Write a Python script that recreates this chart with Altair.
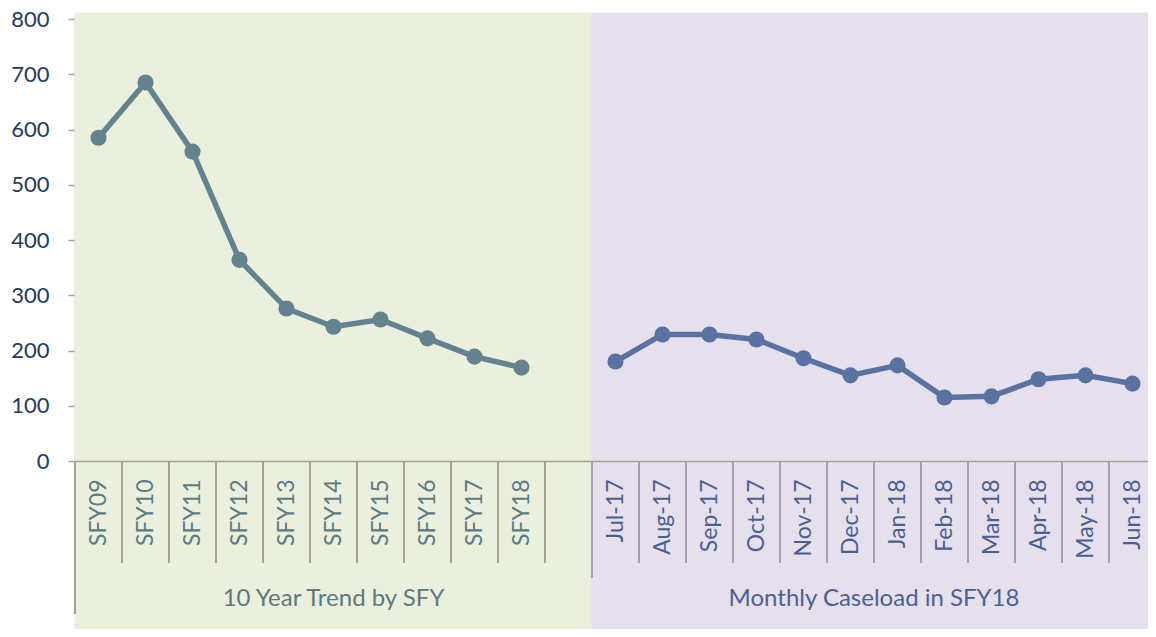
import json
import altair as alt
import pandas as pd

# ---------------- data ----------------
sfy_labels = ["SFY09", "SFY10", "SFY11", "SFY12", "SFY13",
              "SFY14", "SFY15", "SFY16", "SFY17", "SFY18"]
sfy_values = [585, 685, 560, 364, 276, 243, 256, 222, 189, 169]

month_labels = ["Jul-17", "Aug-17", "Sep-17", "Oct-17", "Nov-17", "Dec-17",
                "Jan-18", "Feb-18", "Mar-18", "Apr-18", "May-18", "Jun-18"]
month_values = [180, 229, 229, 220, 186, 155, 173, 115, 117, 148, 155, 140]

gap_label = " "
group_titles = ["10 Year Trend by SFY", "Monthly Caseload in SFY18"]
group_anchor = ["SFY14", "Jan-18"]
y_ticks = [0, 100, 200, 300, 400, 500, 600, 700, 800]

categories = sfy_labels + [gap_label] + month_labels

# ---------------- styles ----------------
PAD_L, PAD_T = 67, 11
W, H = 1140 - PAD_L, 442          # svg is 1140 wide; bands run past the right edge as in the source
BAND_RANGE = 1081
GREEN_BG = "#EBEFDE"
PURPLE_BG = "#E6E0EC"
TREND_COL = "#64838F"
MONTH_COL = "#5A72A2"
AXIS_COL = "#A3A595"
SEP_GREEN = "#A3A692"
SEP_PURPLE = "#A3A2B0"
FONT = "Lato"

x_scale = alt.Scale(domain=categories, paddingInner=0, paddingOuter=0, range=[0, BAND_RANGE])
y_scale = alt.Scale(domain=[0, 800], nice=False)

month_test = "indexof(" + json.dumps(month_labels) + ", datum.value) >= 0"

x_axis = alt.Axis(
    labelAngle=-90, ticks=False, tickSize=0, labelPadding=18,
    domainColor=AXIS_COL, domainWidth=1.5,
    labelFont=FONT, labelFontSize=23,
    labelColor=alt.condition(month_test, alt.value("#4C5F94"), alt.value("#5D7B83")),
    grid=False, labelOverlap=False,
)
y_axis = alt.Axis(
    values=y_ticks, grid=False, tickSize=7, labelPadding=19,
    domainColor=AXIS_COL, tickColor=AXIS_COL, domainWidth=1.5, tickWidth=1.5,
    labelFont=FONT, labelFontSize=22, labelColor="#1F3A5F", title=None,
)


def xpos(band=None):
    kw = dict(scale=x_scale, sort=categories, title=None, axis=x_axis)
    if band is not None:
        kw["bandPosition"] = band
    return alt.X("cat:N", **kw)


trend_cats = sfy_labels + [gap_label]
BOTTOM = H + 180

bg_trend = alt.Chart(pd.DataFrame({"cat": trend_cats})).mark_rect(
    color=GREEN_BG, stroke=GREEN_BG, strokeWidth=1
).encode(x=xpos(), y=alt.value(-6), y2=alt.value(BOTTOM))

bg_month = alt.Chart(pd.DataFrame({"cat": month_labels})).mark_rect(
    color=PURPLE_BG, stroke=PURPLE_BG, strokeWidth=1
).encode(x=xpos(), y=alt.value(-6), y2=alt.value(BOTTOM))

sep_trend = alt.Chart(pd.DataFrame({"cat": trend_cats[1:]})).mark_rule(
    color=SEP_GREEN, strokeWidth=2
).encode(x=xpos(band=0), y=alt.value(H), y2=alt.value(H + 102))

sep_month = alt.Chart(pd.DataFrame({"cat": month_labels[1:]})).mark_rule(
    color=SEP_PURPLE, strokeWidth=2
).encode(x=xpos(band=0), y=alt.value(H), y2=alt.value(H + 102))

sep_group = alt.Chart(pd.DataFrame({"cat": month_labels[:1]})).mark_rule(
    color=SEP_PURPLE, strokeWidth=2
).encode(x=xpos(band=0), y=alt.value(H), y2=alt.value(H + 117))

sep_left = alt.Chart(pd.DataFrame({"cat": sfy_labels[:1]})).mark_rule(
    color=SEP_GREEN, strokeWidth=2
).encode(x=xpos(band=0), y=alt.value(H), y2=alt.value(H + 153))

trend_df = pd.DataFrame({"cat": sfy_labels, "value": sfy_values})
month_df = pd.DataFrame({"cat": month_labels, "value": month_values})

yenc = alt.Y("value:Q", scale=y_scale, axis=y_axis)

trend_line = alt.Chart(trend_df).mark_line(color=TREND_COL, strokeWidth=5.5).encode(x=xpos(), y=yenc)
trend_pts = alt.Chart(trend_df).mark_circle(color=TREND_COL, size=260, opacity=1).encode(x=xpos(), y=yenc)
month_line = alt.Chart(month_df).mark_line(color=MONTH_COL, strokeWidth=5.5).encode(x=xpos(), y=yenc)
month_pts = alt.Chart(month_df).mark_circle(color=MONTH_COL, size=260, opacity=1).encode(x=xpos(), y=yenc)

title_trend = alt.Chart(pd.DataFrame({"cat": group_anchor[:1], "t": group_titles[:1]})).mark_text(
    font=FONT, fontSize=24, color="#5B7A80", baseline="middle", align="center"
).encode(x=xpos(band=0.5), y=alt.value(H + 138), text="t:N")

title_month = alt.Chart(pd.DataFrame({"cat": group_anchor[1:], "t": group_titles[1:]})).mark_text(
    font=FONT, fontSize=24, color="#4F6192", baseline="middle", align="center"
).encode(x=xpos(band=0), y=alt.value(H + 138), text="t:N")

chart = alt.layer(
    bg_trend, bg_month, sep_trend, sep_month, sep_group, sep_left,
    trend_line, month_line, trend_pts, month_pts, title_trend, title_month,
).properties(
    width=W, height=H,
    autosize=alt.AutoSizeParams(type="none"),
    padding={"left": PAD_L, "top": PAD_T, "right": 0, "bottom": 621 - PAD_T - H},
).configure_view(stroke=None).configure(background="white")

chart.save("out.html", embed_options={"renderer": "svg", "actions": False})
